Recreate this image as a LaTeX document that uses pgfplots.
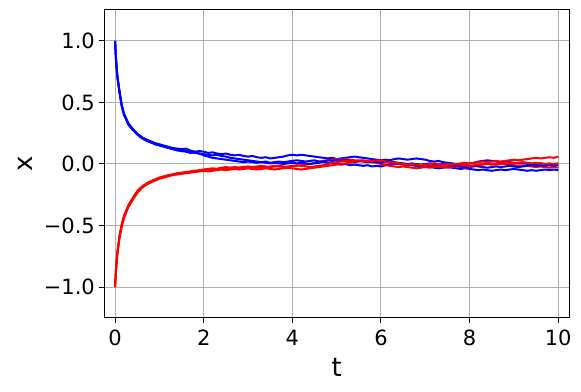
\documentclass[border=0pt]{standalone}
\usepackage{pgfplots}
\pgfplotsset{compat=1.18}
\usepackage{pgfplotstable}
\usepackage{fontspec}
\setmainfont{DejaVu Sans}

\pgfplotstableread{
t    b1     b2     b3     r1     r2     r3
0    1.0    1.0    1.0    -1.0   -1.0   -1.0
0.02 0.86   0.85   0.855  -0.86  -0.87  -0.855
0.05 0.72   0.71   0.715  -0.73  -0.74  -0.72
0.1  0.59   0.58   0.585  -0.59  -0.60  -0.58
0.15 0.48   0.47   0.475  -0.50  -0.51  -0.49
0.2  0.41   0.40   0.405  -0.43  -0.44  -0.42
0.3  0.33   0.32   0.325  -0.34  -0.35  -0.335
0.4  0.285  0.275  0.28   -0.28  -0.29  -0.275
0.5  0.245  0.24   0.245  -0.225 -0.235 -0.22
0.6  0.215  0.21   0.22   -0.19  -0.195 -0.185
0.7  0.20   0.19   0.195  -0.165 -0.17  -0.16
0.8  0.185  0.175  0.18   -0.145 -0.15  -0.14
0.9  0.17   0.16   0.165  -0.13  -0.135 -0.125
1.0  0.16   0.15   0.155  -0.115 -0.12  -0.11
1.1  0.15   0.14   0.145  -0.105 -0.11  -0.10
1.2  0.14   0.13   0.135  -0.095 -0.10  -0.09
1.3  0.13   0.12   0.125  -0.085 -0.09  -0.085
1.4  0.125  0.11   0.12   -0.08  -0.085 -0.075
1.5  0.12   0.105  0.11   -0.075 -0.08  -0.07
1.6  0.125  0.10   0.105  -0.07  -0.075 -0.065
1.7  0.11   0.09   0.10   -0.065 -0.07  -0.06
1.8  0.10   0.095  0.09   -0.06  -0.065 -0.055
1.9  0.105  0.085  0.085  -0.055 -0.06  -0.05
2.0  0.10   0.08   0.07   -0.05  -0.055 -0.045
2.1  0.09   0.075  0.06   -0.045 -0.06  -0.04
2.2  0.095  0.07   0.05   -0.05  -0.055 -0.035
2.3  0.085  0.075  0.045  -0.04  -0.05  -0.04
2.4  0.08   0.065  0.04   -0.035 -0.045 -0.03
2.5  0.085  0.06   0.035  -0.04  -0.05  -0.025
2.6  0.075  0.05   0.03   -0.03  -0.045 -0.03
2.7  0.07   0.045  0.025  -0.025 -0.04  -0.035
2.8  0.075  0.04   0.02   -0.03  -0.045 -0.03
2.9  0.065  0.035  0.015  -0.025 -0.04  -0.025
3.0  0.06   0.03   0.02   -0.02  -0.035 -0.03
3.1  0.065  0.025  0.015  -0.025 -0.04  -0.035
3.2  0.055  0.02   0.01   -0.02  -0.045 -0.03
3.3  0.05   0.015  0.015  -0.015 -0.04  -0.025
3.4  0.055  0.02   0.01   -0.02  -0.035 -0.03
3.5  0.045  0.01   0.005  -0.025 -0.04  -0.02
3.6  0.05   0.015  0.01   -0.02  -0.045 -0.015
3.7  0.055  0.02   0.005  -0.015 -0.04  -0.02
3.8  0.06   0.015  0.0    -0.02  -0.035 -0.025
3.9  0.07   0.02   0.005  -0.025 -0.03  -0.02
4.0  0.075  0.025  0.01   -0.02  -0.035 -0.015
4.1  0.07   0.03   0.005  -0.015 -0.04  -0.01
4.2  0.075  0.025  0.01   -0.01  -0.045 -0.015
4.3  0.07   0.02   0.005  -0.005 -0.04  -0.02
4.4  0.065  0.025  0.0    0.0    -0.035 -0.025
4.5  0.06   0.03   0.005  0.01   -0.03  -0.02
4.6  0.055  0.02   0.01   0.02   -0.025 -0.015
4.7  0.05   0.015  0.02   0.025  -0.02  -0.01
4.8  0.045  0.01   0.03   0.03   -0.015 0.0
4.9  0.05   0.005  0.025  0.035  -0.01  0.01
5.0  0.04   0.0    0.03   0.04   -0.005 0.015
5.1  0.045  -0.005 0.035  0.035  0.0    0.02
5.2  0.05   0.0    0.03   0.04   0.005  0.025
5.3  0.055  -0.01  0.025  0.035  0.01   0.02
5.4  0.06   -0.005 0.02   0.03   0.015  0.025
5.5  0.055  -0.01  0.025  0.025  0.02   0.03
5.6  0.05   -0.015 0.02   0.03   0.025  0.025
5.7  0.045  -0.01  0.015  0.025  0.02   0.02
5.8  0.04   -0.02  0.02   0.02   0.015  0.025
5.9  0.035  -0.015 0.015  0.025  0.01   0.03
6.0  0.03   -0.02  0.01   0.02   0.0    0.025
6.1  0.035  -0.01  0.015  0.015  -0.01  0.02
6.2  0.03   -0.005 0.02   0.01   -0.015 0.015
6.3  0.04   0.0    0.015  0.005  -0.02  0.01
6.4  0.045  0.005  0.01   0.0    -0.025 0.005
6.5  0.04   0.0    0.005  -0.005 -0.02  0.0
6.6  0.035  -0.005 0.0    -0.01  -0.025 -0.005
6.7  0.04   -0.01  0.005  -0.005 -0.03  0.0
6.8  0.045  -0.015 0.0    -0.01  -0.035 -0.005
6.9  0.04   -0.02  -0.005 -0.015 -0.03  -0.01
7.0  0.035  -0.025 0.0    -0.01  -0.025 -0.005
7.1  0.025  -0.02  0.005  -0.02  -0.03  0.0
7.2  0.02   -0.03  0.0    -0.015 -0.025 0.005
7.3  0.025  -0.035 -0.005 -0.01  -0.02  0.0
7.4  0.015  -0.03  0.0    -0.005 -0.025 -0.005
7.5  0.01   -0.025 -0.01  0.0    -0.03  -0.01
7.6  0.005  -0.03  -0.015 -0.005 -0.025 -0.005
7.7  0.0    -0.035 -0.01  0.0    -0.02  0.0
7.8  -0.005 -0.04  -0.02  0.005  -0.025 -0.005
7.9  0.0    -0.035 -0.025 0.01   -0.03  -0.01
8.0  0.005  -0.04  -0.02  0.005  -0.025 -0.015
8.1  0.01   -0.045 -0.015 0.01   -0.02  -0.01
8.2  0.02   -0.05  -0.02  0.015  -0.01  -0.005
8.3  0.025  -0.045 -0.025 0.02   -0.005 0.0
8.4  0.03   -0.05  -0.03  0.015  0.0    0.005
8.5  0.025  -0.055 -0.025 0.02   -0.005 0.0
8.6  0.02   -0.05  -0.02  0.025  0.0    -0.005
8.7  0.015  -0.045 -0.025 0.02   0.005  0.0
8.8  0.02   -0.05  -0.02  0.025  0.0    0.005
8.9  0.015  -0.045 -0.015 0.03   -0.005 0.01
9.0  0.01   -0.04  -0.02  0.035  -0.01  0.005
9.1  0.005  -0.045 -0.025 0.03   -0.015 0.01
9.2  0.01   -0.05  -0.02  0.035  -0.01  0.015
9.3  0.0    -0.055 -0.015 0.04   -0.015 0.01
9.4  -0.005 -0.05  -0.01  0.045  -0.02  0.005
9.5  0.0    -0.055 -0.015 0.05   -0.025 0.01
9.6  0.005  -0.05  -0.01  0.045  -0.02  0.005
9.7  0.0    -0.045 -0.015 0.05   -0.025 0.0
9.8  -0.005 -0.05  -0.01  0.055  -0.03  0.005
9.9  0.0    -0.045 -0.015 0.05   -0.025 0.0
10.0 0.0    -0.05  -0.01  0.06   -0.03  0.005
}\traj

\begin{document}
\begin{tikzpicture}
\path[use as bounding box] (0pt,0pt) rectangle (581pt,391pt);
\begin{axis}[
  at={(104pt,73pt)}, anchor=south west,
  scale only axis, width=465.3pt, height=308pt,
  xmin=-0.25, xmax=10.25, ymin=-1.25, ymax=1.25,
  xtick={0,2,4,6,8,10}, ytick={-1,-0.5,0,0.5,1},
  xticklabels={0,2,4,6,8,10},
  yticklabels={−1.0,−0.5,0.0,0.5,1.0},
  tick align=outside, tick pos=left,
  major tick length=5pt,
  tick style={black, line width=1pt},
  grid=major,
  major grid style={color=black!31, line width=1pt},
  axis line style={line width=1pt},
  ticklabel style={font=\fontsize{21}{24}\selectfont, inner sep=0pt},
  xticklabel style={anchor=north, yshift=-7pt},
  yticklabel style={anchor=east, xshift=-4pt},
  xlabel={t}, ylabel={x},
  every axis x label/.style={at={(axis description cs:0.5,0)}, anchor=center, yshift=-49pt, font=\fontsize{26}{30}\selectfont, inner sep=0pt},
  every axis y label/.style={at={(axis description cs:0,0.5)}, xshift=-79pt, anchor=center, rotate=90, font=\fontsize{26}{30}\selectfont, inner sep=0pt},
  every axis plot/.append style={line width=2pt, no markers, line join=round},
]
\addplot[blue] table[x=t, y=b1] {\traj};
\addplot[red]  table[x=t, y=r1] {\traj};
\addplot[blue] table[x=t, y=b2] {\traj};
\addplot[red]  table[x=t, y=r2] {\traj};
\addplot[blue] table[x=t, y=b3] {\traj};
\addplot[red]  table[x=t, y=r3] {\traj};
\end{axis}
\end{tikzpicture}
\end{document}
